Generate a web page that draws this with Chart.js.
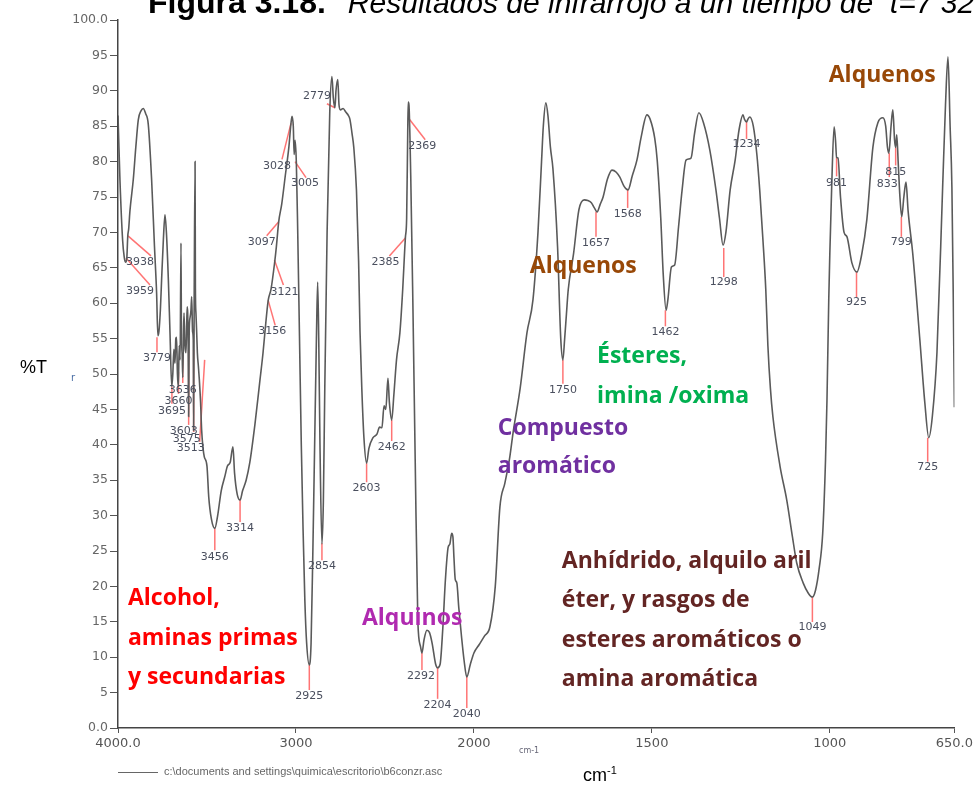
<!DOCTYPE html>
<html>
<head>
<meta charset="utf-8">
<script src="https://cdn.jsdelivr.net/npm/chart.js@4.4.1/dist/chart.umd.min.js"></script>
<style>
  body { margin: 0; background: #fff; }
  #wrap { position: relative; width: 976px; height: 789px; overflow: hidden; }
  #title { position: absolute; left: 148px; top: -13px; font-size: 30px; line-height: 30px;
           font-family: "Liberation Sans", Arial, sans-serif; white-space: nowrap; color: #000; }
  #title b { font-weight: bold; font-size: 32px; margin-right: 22px; }
  #title i { font-style: italic; }
  #ylab { position: absolute; left: 20px; top: 357px; font: 18px "Liberation Sans", Arial, sans-serif; }
  #xlab { position: absolute; left: 583px; top: 764px; font: 18px "Liberation Sans", Arial, sans-serif; }
  #xlab sup { font-size: 11px; }
  #tinyx { position: absolute; left: 519px; top: 746px; font: 8px "DejaVu Sans", sans-serif; color: #667; }
  #tinyr { position: absolute; left: 71px; top: 372px; font: 10px "DejaVu Sans", sans-serif; color: #4a6fa5; }
  #foot { position: absolute; left: 118px; top: 765px; font: 11px "Liberation Sans", Arial, sans-serif; color: #666; }
  #foot span { display: inline-block; width: 40px; border-top: 1px solid #666; vertical-align: middle; margin-right: 6px; }
</style>
</head>
<body>
<div id="wrap">
  <canvas id="irChart" width="976" height="789"></canvas>
  <div id="title"><b>Figura 3.18.</b><i>Resultados de infrarrojo a un tiempo de &nbsp;t=7 32</i></div>
  <div id="ylab">%T</div>
  <div id="tinyr">r</div>
  <div id="tinyx">cm-1</div>
  <div id="xlab">cm<sup>-1</sup></div>
  <div id="foot"><span></span>c:\documents and settings\quimica\escritorio\b6conzr.asc</div>
</div>
<script>
// spectrum (cm-1, %T)
const wavenumber = [4000, 3997, 3989, 3974, 3965, 3958, 3951, 3945, 3940, 3933, 3914, 3900, 3886, 3870, 3858, 3845, 3830, 3811, 3795, 3783,
  3776, 3770, 3762, 3755, 3745, 3736, 3728, 3717, 3708, 3698, 3692, 3686, 3680, 3675, 3671, 3666, 3661, 3656, 3651, 3646,
  3643, 3640, 3636, 3632, 3629, 3624, 3618, 3614, 3611, 3606, 3603, 3600, 3595, 3590, 3586, 3581, 3577, 3575, 3572, 3567,
  3565, 3562, 3558, 3554, 3548, 3543, 3536, 3530, 3522, 3515, 3500, 3490, 3475, 3456, 3440, 3420, 3400, 3385, 3370, 3354,
  3345, 3330, 3314, 3300, 3280, 3260, 3230, 3202, 3185, 3174, 3156, 3140, 3121, 3110, 3097, 3080, 3060, 3040, 3028, 3022,
  3015, 3010, 3005, 2998, 2990, 2980, 2970, 2960, 2950, 2940, 2925, 2915, 2905, 2895, 2885, 2878, 2872, 2865, 2854, 2846,
  2838, 2825, 2810, 2798, 2790, 2781, 2775, 2765, 2758, 2750, 2735, 2720, 2705, 2697, 2685, 2675, 2660, 2648, 2640, 2630,
  2618, 2603, 2590, 2567, 2545, 2530, 2517, 2505, 2495, 2483, 2475, 2462, 2450, 2435, 2416, 2400, 2390, 2385, 2378, 2372,
  2369, 2365, 2355, 2343, 2330, 2315, 2300, 2292, 2280, 2264, 2250, 2235, 2215, 2204, 2190, 2175, 2160, 2145, 2135, 2125,
  2118, 2112, 2105, 2096, 2085, 2070, 2055, 2040, 2020, 2000, 1985, 1970, 1955, 1940, 1927, 1913, 1900, 1890, 1870, 1851,
  1834, 1820, 1810, 1805, 1798, 1792, 1785, 1778, 1765, 1756, 1750, 1745, 1740, 1735, 1720, 1705, 1690, 1680, 1670, 1662,
  1654, 1645, 1637, 1625, 1612, 1600, 1590, 1578, 1567, 1555, 1542, 1530, 1514, 1505, 1492, 1485, 1475, 1468, 1460, 1455,
  1445, 1436, 1425, 1415, 1404, 1390, 1380, 1368, 1355, 1337, 1320, 1310, 1300, 1292, 1280, 1266, 1255, 1244, 1240, 1234,
  1230, 1225, 1215, 1205, 1197, 1188, 1180, 1174, 1167, 1160, 1140, 1121, 1105, 1093, 1075, 1060, 1049, 1040, 1030, 1020,
  1012, 1008, 1003, 1000, 995, 988, 984, 981, 977, 970, 960, 952, 938, 924, 910, 896, 879, 865, 851, 843,
  838, 834, 828, 823, 818, 815, 812, 808, 803, 798, 792, 786, 780, 767, 747, 733, 722, 712, 699, 683,
  675, 668, 662, 657, 653, 650];
const transmittance = [86.5, 84, 77.4, 68.9, 66.5, 65.8, 66.2, 69.5, 70.5, 73, 77.5, 82, 85.9, 87.2, 87.5, 86.8, 85.3, 77.4, 68, 61.4,
  55.4, 56, 59, 63.3, 69, 72.5, 70, 63.3, 56, 48.2, 50, 53.5, 51.5, 55, 55.2, 50, 48.2, 54, 52, 68.5,
  53, 53, 49.5, 56, 58.6, 54, 53, 57, 59.5, 55, 44, 55.8, 58, 59, 60.9, 56, 54.8, 42, 60, 80,
  62, 58.6, 56, 53, 51, 49.2, 46, 42.1, 39.5, 38.3, 37, 32.6, 29.5, 28.2, 30, 33.5, 35.5, 37, 37.5, 39.7,
  36, 33, 32.2, 33.5, 35, 37.4, 43, 49.2, 53, 56, 60.4, 62, 65.5, 68, 71.5, 74, 78, 82, 85.4, 86.4,
  85, 81, 83, 80, 70, 55, 40, 28, 18, 12, 8.9, 12, 25, 40, 55, 63, 55, 40, 26, 32,
  48, 70, 87, 92, 89, 87.6, 90, 91.6, 88, 87.3, 87.5, 87, 86.5, 86, 84, 82, 76, 66, 56, 48,
  41, 37.4, 39.5, 41, 41.5, 42.5, 42.4, 45.5, 45, 49.4, 46, 43.5, 47, 52, 55.8, 62, 67, 69.3, 72, 84,
  88.4, 88, 78, 60, 38, 15, 11.5, 10.6, 12.5, 13.8, 13.5, 12, 9, 8.5, 9, 14, 21, 25.5, 26, 27.5,
  27, 24, 21, 20.5, 17, 13, 9.5, 7.2, 9, 10.6, 11.8, 13, 14.3, 20, 31.2, 34.6, 38, 41.7, 48, 55.8,
  60.5, 70, 80, 85, 88.3, 86.5, 82, 79, 68, 55, 52, 55, 58.5, 61.9, 67, 73.2, 74.6, 74.5, 74.2, 73.5,
  72.9, 74, 75, 77.5, 78.8, 78.5, 77.8, 76.5, 76, 78, 80.2, 83.5, 86.6, 86, 83.3, 80.2, 72, 64, 59, 60.5,
  65.1, 65.4, 70.8, 76, 80.2, 80.5, 84, 86.9, 85.5, 81.6, 76, 72, 68.2, 70, 76, 80.2, 84.5, 86.6, 86, 85.6,
  86, 86.3, 85, 81, 76, 69, 62, 54, 48, 44, 37, 32.2, 27, 23.3, 20.5, 19, 18.5, 19.5, 22.5, 27.5,
  38, 46.3, 60.5, 67, 76, 84.9, 83, 80.6, 80.5, 75, 70, 69.4, 65.7, 64.4, 67, 71.8, 82, 85.5, 86.2, 85,
  82, 81.2, 85, 87.3, 83, 82, 83.8, 80, 75, 72.2, 75, 77.1, 73, 67, 54.8, 45.9, 41, 44, 53, 76.4,
  88, 94.8, 85, 76.4, 60, 45.3];

// axis ticks (the instrument halves the scale below 2000 cm-1)
const tickWn = [4000, 3000, 2000, 1500, 1000, 650];
const tickLabels = ['4000.0', '3000', '2000', '1500', '1000', '650.0'];

// picked peaks
const peakLabels = ['3959', '3938', '3779', '3695', '3660', '3636', '3603', '3575', '3513', '3456', '3314', '3156', '3121',
  '3097', '3028', '3005', '2779', '2925', '2854', '2603', '2462', '2385', '2369', '2292', '2204', '2040',
  '1750', '1657', '1568', '1462', '1298', '1234', '1049', '981', '925', '833', '815', '799', '725'];
const peakWn = [3955, 3944, 3781, 3697, 3660, 3636, 3603, 3575, 3513, 3456, 3314, 3156, 3121,
  3097, 3028, 3005, 2781, 2925, 2854, 2603, 2462, 2385, 2369, 2292, 2204, 2040,
  1750, 1657, 1568, 1462, 1298, 1234, 1049, 981, 925, 833, 815, 799, 725];
const peakT = [66.4, 69.5, 55.2, 48.2, 50.3, 52.7, 53.4, 53.4, 52, 28.2, 32.2, 60.4, 66.1,
  71.5, 85.4, 80, 87.6, 8.9, 26.1, 37.4, 43.5, 69.2, 86.2, 10.6, 8.5, 7.2,
  52, 72.9, 76, 59, 67.8, 85.6, 18.5, 80.6, 64.4, 81.2, 82, 72.2, 41];
// label offsets in px: text dx, dy, line end dx, dy
const peakLayout = [[14, 33, 24, 27], [12, 26, 23, 20], [0, 21, 0, 15], [0, 24, 0, 17], [0, 29, 0, 22], [0, 35, 0, 28],
  [-5, 81, 0, 75], [-7, 89, 0, 82], [-14, 88, -5, 82], [0, 29, 0, 22], [0, 28, 0, 22], [4, 31, 7, 25], [10, 32, 9, 25],
  [-17, 20, -12, 14], [-14, 43, -9, 36], [10, 22, 11, 16], [-18, -12, -8, -4], [0, 31, 0, 25], [0, 23, 0, 17],
  [0, 25, 0, 19], [0, 27, 0, 21], [-20, 24, -16, 18], [14, 28, 17, 22], [-1, 23, 0, 17], [0, 37, 0, 31], [0, 37, 0, 31],
  [0, 30, 0, 24], [0, 31, 0, 25], [0, 24, 0, 18], [0, 22, 0, 16], [0, 34, 0, 29], [0, 22, 0, 17], [0, 30, 0, 25],
  [0, 26, 0, 19], [0, 30, 0, 25], [-2, 31, 0, 24], [0, 25, 0, 18], [0, 25, 0, 20], [0, 29, 0, 24]];

// group annotations: text, colour, anchor (cm-1, %T) of the left baseline
const notes = [
  ['Alcohol,', '#ff0000', 3944, 17.4],
  ['aminas primas', '#ff0000', 3944, 11.7],
  ['y secundarias', '#ff0000', 3944, 6.2],
  ['Alquinos', '#b02ab0', 2629, 14.5],
  ['Compuesto', '#7030a0', 1933, 41.4],
  ['aromático', '#7030a0', 1933, 36.0],
  ['Ésteres,', '#00b050', 1654, 51.6],
  ['imina /oxima', '#00b050', 1654, 45.9],
  ['Alquenos', '#984807', 1843, 64.3],
  ['Alquenos', '#984807', 1003, 91.2],
  ['Anhídrido, alquilo aril', '#632523', 1753, 22.6],
  ['éter, y rasgos de', '#632523', 1753, 17.1],
  ['esteres aromáticos o', '#632523', 1753, 11.4],
  ['amina aromática', '#632523', 1753, 5.9]
];

// cm-1 -> axis units: 1 unit per cm-1 above 2000, 2 units per cm-1 below
function toAxis(wn) {
    return wn >= 2000 ? 4000 - wn : 2000 + 2 * (2000 - wn);
}

const points = wavenumber.map((w, i) => ({ x: toAxis(w), y: transmittance[i] }));

const peaksPlugin = {
    id: 'peaks',
    beforeDatasetsDraw(chart) {
        const { ctx, scales: { x, y } } = chart;
        ctx.save();
        ctx.strokeStyle = 'rgba(255,70,70,0.75)';
        ctx.lineWidth = 1.5;
        peakWn.forEach((w, i) => {
            const px = x.getPixelForValue(toAxis(w));
            const py = y.getPixelForValue(peakT[i]);
            const l = peakLayout[i];
            ctx.beginPath();
            ctx.moveTo(px, py);
            ctx.lineTo(px + l[2], py + l[3]);
            ctx.stroke();
        });
        ctx.restore();
    },
    afterDatasetsDraw(chart) {
        const { ctx, scales: { x, y } } = chart;
        ctx.save();
        ctx.font = '11px "DejaVu Sans"';
        ctx.fillStyle = '#4a4f5e';
        ctx.textAlign = 'center';
        ctx.textBaseline = 'middle';
        peakWn.forEach((w, i) => {
            const px = x.getPixelForValue(toAxis(w));
            const py = y.getPixelForValue(peakT[i]);
            const l = peakLayout[i];
            ctx.fillText(peakLabels[i], px + l[0], py + l[1]);
        });
        ctx.font = 'bold 23px "Open Sans"';
        ctx.textAlign = 'left';
        ctx.textBaseline = 'alphabetic';
        notes.forEach(n => {
            ctx.fillStyle = n[1];
            ctx.fillText(n[0], x.getPixelForValue(toAxis(n[2])), y.getPixelForValue(n[3]));
        });
        ctx.restore();
    }
};

new Chart(document.getElementById('irChart'), {
    type: 'line',
    data: {
        datasets: [{
            data: points,
            borderColor: '#5a5a5a',
            borderWidth: 1.6,
            pointRadius: 0,
            cubicInterpolationMode: 'monotone',
            fill: false
        }]
    },
    options: {
        responsive: false,
        animation: false,
        layout: { padding: { top: 20, right: 21, bottom: 0, left: 0 } },
        plugins: { legend: { display: false }, tooltip: { enabled: false } },
        scales: {
            x: {
                type: 'linear',
                min: 0,
                max: toAxis(650),
                afterBuildTicks: (s) => { s.ticks = tickWn.map(w => ({ value: toAxis(w) })); },
                afterFit: (s) => { s.height = 61; },
                border: { display: true, color: '#444', width: 1.5 },
                grid: { drawOnChartArea: false, drawTicks: true, tickLength: 5, color: '#555' },
                ticks: {
                    autoSkip: false, maxRotation: 0, padding: 3,
                    color: '#555', font: { family: 'DejaVu Sans', size: 13 },
                    callback: (v, i) => tickLabels[i]
                }
            },
            y: {
                min: 0,
                max: 100,
                afterFit: (s) => { s.width = 118; },
                border: { display: true, color: '#444', width: 1.5 },
                grid: { drawOnChartArea: false, drawTicks: true, tickLength: 8, color: '#555' },
                ticks: {
                    stepSize: 5, autoSkip: false, padding: 2,
                    color: '#666', font: { family: 'DejaVu Sans', size: 12.5 },
                    callback: (v) => v === 100 ? '100.0' : (v === 0 ? '0.0' : String(v))
                }
            }
        }
    },
    plugins: [peaksPlugin]
});
</script>
</body>
</html>
